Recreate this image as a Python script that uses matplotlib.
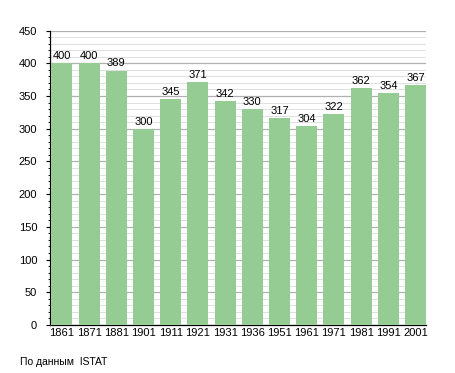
import matplotlib
matplotlib.use("Agg")
import matplotlib.pyplot as plt
from matplotlib.ticker import MultipleLocator

years = ["1861", "1871", "1881", "1901", "1911", "1921", "1931", "1936",
         "1951", "1961", "1971", "1981", "1991", "2001"]
population = [400, 400, 389, 300, 345, 371, 342, 330, 317, 304, 322, 362, 354, 367]
source_text = "По данным  ISTAT"

plt.rcParams['font.family'] = ['Liberation Sans', 'DejaVu Sans']

fig = plt.figure(figsize=(4.55, 3.73), dpi=100)
ax = fig.add_axes([50/455, 1 - 325/373, 376/455, (325 - 30.6)/373])

x = list(range(len(years)))
bars = ax.bar(x, population, width=0.77, color="#94cc94", zorder=3)

ax.set_xlim(-0.435, 13.385)
ax.set_ylim(0, 450)
ax.yaxis.set_major_locator(MultipleLocator(50))
ax.yaxis.set_minor_locator(MultipleLocator(10))
ax.grid(axis='y', which='major', color='#b0b0b0', linewidth=0.9, zorder=0)
ax.grid(axis='y', which='minor', color='#e0e0e0', linewidth=0.7, zorder=0)
ax.set_axisbelow(True)

ax.set_xticks(x)
ax.set_xticklabels(years)
ax.tick_params(axis='x', length=0, pad=2.5, labelsize=8)
ax.tick_params(axis='y', which='major', length=3.2, width=0.8, pad=6, labelsize=8, direction='out')
ax.tick_params(axis='y', which='minor', length=1.8, width=0.6, direction='out')

for s in ['top', 'right']:
    ax.spines[s].set_visible(False)
ax.spines['left'].set_linewidth(0.9)
ax.spines['bottom'].set_linewidth(0.9)

for xi, v in zip(x, population):
    ax.annotate(str(v), (xi, v), xytext=(0, 1.5), textcoords='offset points',
                ha='center', va='bottom', fontsize=8)

fig.text(20/455, 1 - 362/373, source_text, fontsize=7.5, ha='left', va='center')

fig.savefig("out.png", dpi=100)
